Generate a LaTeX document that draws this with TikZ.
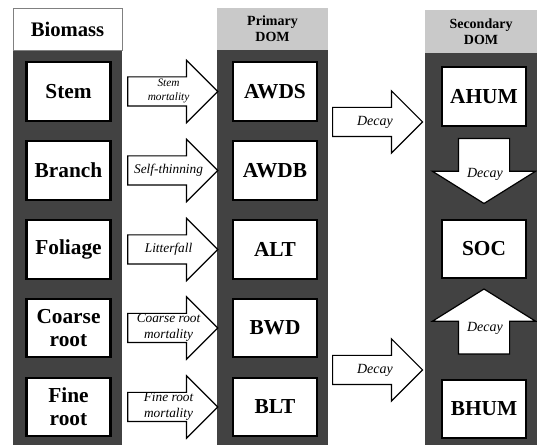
\documentclass[tikz,border=0pt]{standalone}
\usepackage{fontspec}
\setmainfont{Liberation Serif}
\usetikzlibrary{shapes.arrows,calc}
\definecolor{colgray}{RGB}{66,66,66}
\definecolor{headgray}{RGB}{201,201,201}

\begin{document}
\begin{tikzpicture}[x=0.75pt,y=-0.75pt,
    pool/.style={draw=black,line width=1.6pt,fill=white,minimum width=63pt,
        minimum height=44pt,inner sep=0pt,align=center,
        font=\fontsize{16}{17.5}\selectfont\bfseries},
    head/.style={fill=headgray,inner sep=0pt,align=center,minimum height=31.5pt,
        font=\fontsize{10.5}{12}\selectfont\bfseries},
    flux/.style={single arrow,draw=black,line width=0.9pt,fill=white,
        inner xsep=0pt,inner ysep=10.5pt,single arrow head extend=12.4pt,
        minimum height=67.5pt},
    vflux/.style={single arrow,draw=black,line width=0.9pt,fill=white,
        inner xsep=0pt,inner ysep=18.75pt,single arrow head extend=19.5pt,
        single arrow tip angle=116,minimum height=48.75pt},
    fluxlab/.style={inner sep=0pt,align=center,
        font=\fontsize{10}{12.5}\selectfont\itshape}]

        \useasboundingbox (0,0) rectangle (537,445);

        % columns
        \fill[colgray] (13,50) rectangle (122,445);
        \fill[colgray] (217,50) rectangle (328,445);
        \fill[colgray] (425,53) rectangle (537,445);
        \node[head,draw=gray,fill=white,minimum width=81.75pt,
            font=\fontsize{15.5}{17}\selectfont\bfseries] (biomass) at (67.5,29) {Biomass};
        \node[head,minimum width=83.25pt] (primary) at (272.5,29) {Primary\\DOM};
        \node[head,minimum width=84pt,minimum height=32.25pt] (secondary) at (481,31.5) {Secondary\\DOM};

        % pools
        \foreach \nm/\lab/\yy in {stem/Stem/91.5,branch/Branch/170.5,foliage/Foliage/249.5,
            coarse/{Coarse\\root}/328,fine/{Fine\\root}/407}
            \node[pool] (\nm) at (68.5,\yy) {\lab};
        \foreach \nm/\lab/\yy in {awds/AWDS/91.5,awdb/AWDB/170.5,alt/ALT/249.5,
            bwd/BWD/328,blt/BLT/407}
            \node[pool] (\nm) at (275,\yy) {\lab};
        \foreach \nm/\lab/\yy in {ahum/AHUM/96.5,soc/SOC/249,bhum/BHUM/409}
            \node[pool] (\nm) at (484,\yy) {\lab};

        % fluxes
        \foreach \a/\b/\lab/\fs/\bs in {stem/awds/{Stem\\mortality}/8.5/10.5,
            branch/awdb/Self-thinning/10/12.5,foliage/alt/Litterfall/10/12.5,
            coarse/bwd/{Coarse root\\mortality}/10/12.5,fine/blt/{Fine root\\mortality}/10/12.5}{
            \node[flux,anchor=tail] (f\a) at ($(\a.east)+(15.5,0)$) {};
            \node[fluxlab,font=\fontsize{\fs}{\bs}\selectfont\itshape] (l\a) at ($(\a.east)+(57,-0.5)$) {\lab};
        }

        \node[flux,anchor=tail] (dtop) at (332,122) {};
        \node[fluxlab,font=\fontsize{10.5}{12}\selectfont\itshape] (ldtop) at (375,122) {Decay};
        \node[flux,anchor=tail] (dbot) at (332,370) {};
        \node[fluxlab,font=\fontsize{10.5}{12}\selectfont\itshape] (ldbot) at (375,370) {Decay};

        \node[vflux,rotate=-90,anchor=tail] (ddown) at ($(ahum.south)+(0,11)$) {};
        \node[fluxlab,font=\fontsize{10.5}{12}\selectfont\itshape] (lddown) at (485,174) {Decay};
        \node[vflux,rotate=90,anchor=tail] (dup) at ($(bhum.north)+(0,-24)$) {};
        \node[fluxlab,font=\fontsize{10.5}{12}\selectfont\itshape] (ldup) at (485,328) {Decay};

      \end{tikzpicture}
\end{document}
